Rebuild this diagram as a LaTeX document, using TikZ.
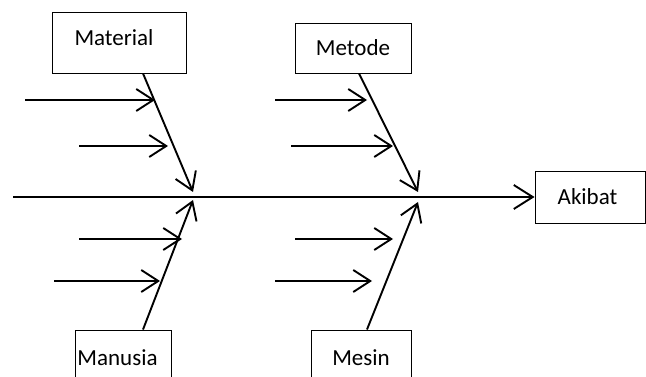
\documentclass[tikz,border=0pt]{standalone}
\usepackage{fontspec}
\setmainfont{Carlito}
\usetikzlibrary{arrows.meta,positioning,calc}
\tikzset{
  catbox/.style={draw=black,line width=0.9pt,fill=white,rectangle,inner sep=0pt,font=\fontsize{23}{27}\selectfont},
  bone/.style={-{Straight Barb[length=17pt,width=22pt]},line width=1.9pt},
  cause/.style={-{Straight Barb[length=17pt,width=22pt]},line width=1.9pt},
  spine/.style={-{Straight Barb[length=19pt,width=24pt]},line width=1.9pt}
}
\begin{document}
\begin{tikzpicture}[x=1pt,y=-1pt]
  \clip (0,0) rectangle (646,377);
  \useasboundingbox (0,0) rectangle (646,377);
  % category boxes
  \node[catbox,minimum width=134pt,minimum height=61pt] (material) at (119,42.5) {\hspace*{-10pt}\raisebox{5pt}[\height][\depth]{Material}};
  \node[catbox,minimum width=116pt,minimum height=50pt] (metode) at (353,48) {Metode};
  \node[catbox,minimum width=96pt,minimum height=56pt] (manusia) at (123,358) {\hspace*{-11pt}Manusia};
  \node[catbox,minimum width=100pt,minimum height=56pt] (mesin) at (361,358) {Mesin};
  \node[catbox,minimum width=110pt,minimum height=52pt] (akibat) at (590,197) {\hspace*{-5pt}Akibat};
  % spine
  \coordinate (tail) at (13,197);
  \draw[spine] (tail) -- (tail -| akibat.west);
  % bones
  \coordinate (tmat) at (193,192);
  \coordinate (tmet) at (418,192);
  \coordinate (tman) at (193,200);
  \coordinate (tmes) at (418,202);
  \draw[bone] ([xshift=24pt]material.south) -- (tmat);
  \draw[bone] ([xshift=6pt]metode.south) -- (tmet);
  \draw[bone] ([xshift=20pt]manusia.north) -- (tman);
  \draw[bone] ([xshift=6pt]mesin.north) -- (tmes);
  % sub causes
  \coordinate (mat1) at (25,100);  \coordinate (mat1e) at (155,100);
  \coordinate (mat2) at (79,146);  \coordinate (mat2e) at (168,146);
  \coordinate (met1) at (275,100); \coordinate (met1e) at (367,100);
  \coordinate (met2) at (291,146); \coordinate (met2e) at (393,146);
  \coordinate (man1) at (79,239);  \coordinate (man1e) at (182,239);
  \coordinate (man2) at (54,281);  \coordinate (man2e) at (160,281);
  \coordinate (mes1) at (295,239); \coordinate (mes1e) at (393,239);
  \coordinate (mes2) at (275,281); \coordinate (mes2e) at (372,281);
  \draw[cause] (mat1) -- (mat1e);
  \draw[cause] (mat2) -- (mat2e);
  \draw[cause] (met1) -- (met1e);
  \draw[cause] (met2) -- (met2e);
  \draw[cause] (man1) -- (man1e);
  \draw[cause] (man2) -- (man2e);
  \draw[cause] (mes1) -- (mes1e);
  \draw[cause] (mes2) -- (mes2e);
\end{tikzpicture}
\end{document}
